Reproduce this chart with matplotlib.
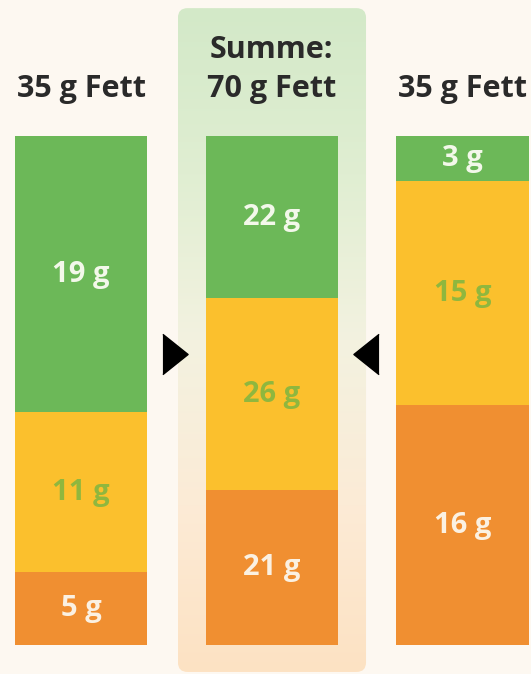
import numpy as np
import matplotlib.pyplot as plt
from matplotlib.patches import FancyBboxPatch
from matplotlib.colors import LinearSegmentedColormap

plt.rcParams['font.family'] = ['Open Sans', 'DejaVu Sans']

# data: grams of fat per group, top to bottom green / yellow / orange
headers = ['35 g Fett', 'Summe:\n70 g Fett', '35 g Fett']
green_g = [19, 22, 3]
yellow_g = [11, 26, 15]
orange_g = [5, 21, 16]

colors = {'green': '#6cb858', 'yellow': '#fbc02d', 'orange': '#f08f31'}
text_colors = {'green': '#f3f8ea', 'yellow': '#8fb73e', 'orange': '#fbf1e2'}

fig = plt.figure(figsize=(5.31, 6.74), dpi=100)
fig.patch.set_facecolor('#fdf8f1')
ax = fig.add_axes([0, 0, 1, 1])
ax.axis('off')

x = np.arange(len(headers))
totals = np.array(green_g) + np.array(yellow_g) + np.array(orange_g)

# highlighted sum panel with a green -> cream -> peach gradient
px0, px1, py0, py1 = 0.508, 1.494, -5.3, 125.1
panel = FancyBboxPatch((px0, py0), px1 - px0, py1 - py0,
                       boxstyle='round,pad=0,rounding_size=0.05',
                       mutation_aspect=37.5, facecolor='none',
                       edgecolor='none', zorder=1)
ax.add_patch(panel)
cmap = LinearSegmentedColormap.from_list(
    'panel', ['#fde2c3', '#fcebd6', '#f3f2e0', '#e0eed2', '#d3e9c8'])
grad = np.linspace(0, 1, 256).reshape(-1, 1)
im = ax.imshow(grad, cmap=cmap, origin='lower', aspect='auto',
               extent=(px0, px1, py0, py1), zorder=1)
im.set_clip_path(panel)

# stacked 100% bars
stack = [('orange', orange_g), ('yellow', yellow_g), ('green', green_g)]
bottom = np.zeros(len(x))
for name, vals in stack:
    pct = np.array(vals) / totals * 100
    ax.bar(x, pct, width=0.695, bottom=bottom, color=colors[name], zorder=3)
    for xi, b, p, v in zip(x, bottom, pct, vals):
        ax.text(xi, b + p / 2, f'{v} g', ha='center', va='center',
                color=text_colors[name], fontsize=21, fontweight='bold',
                zorder=4)
    bottom += pct

# headers, last lines share one baseline
for xi, h in zip(x, headers):
    ax.text(xi, 107.7, h, ha='center', va='baseline', fontsize=22,
            fontweight='bold', color='#2a2a2a', linespacing=1.38, zorder=4)

# arrows pointing into the sum
ax.plot([0.493], [57.2], marker=[(-0.625, 1), (0.625, 0), (-0.625, -1)],
        markersize=29, color='black', zorder=5)
ax.plot([1.494], [57.2], marker=[(0.625, 1), (-0.625, 0), (0.625, -1)],
        markersize=29, color='black', zorder=5)

ax.set_xlim(-0.425, 2.359)
ax.set_ylim(-5.7, 126.7)

fig.savefig('out.png', dpi=100, facecolor=fig.get_facecolor())
